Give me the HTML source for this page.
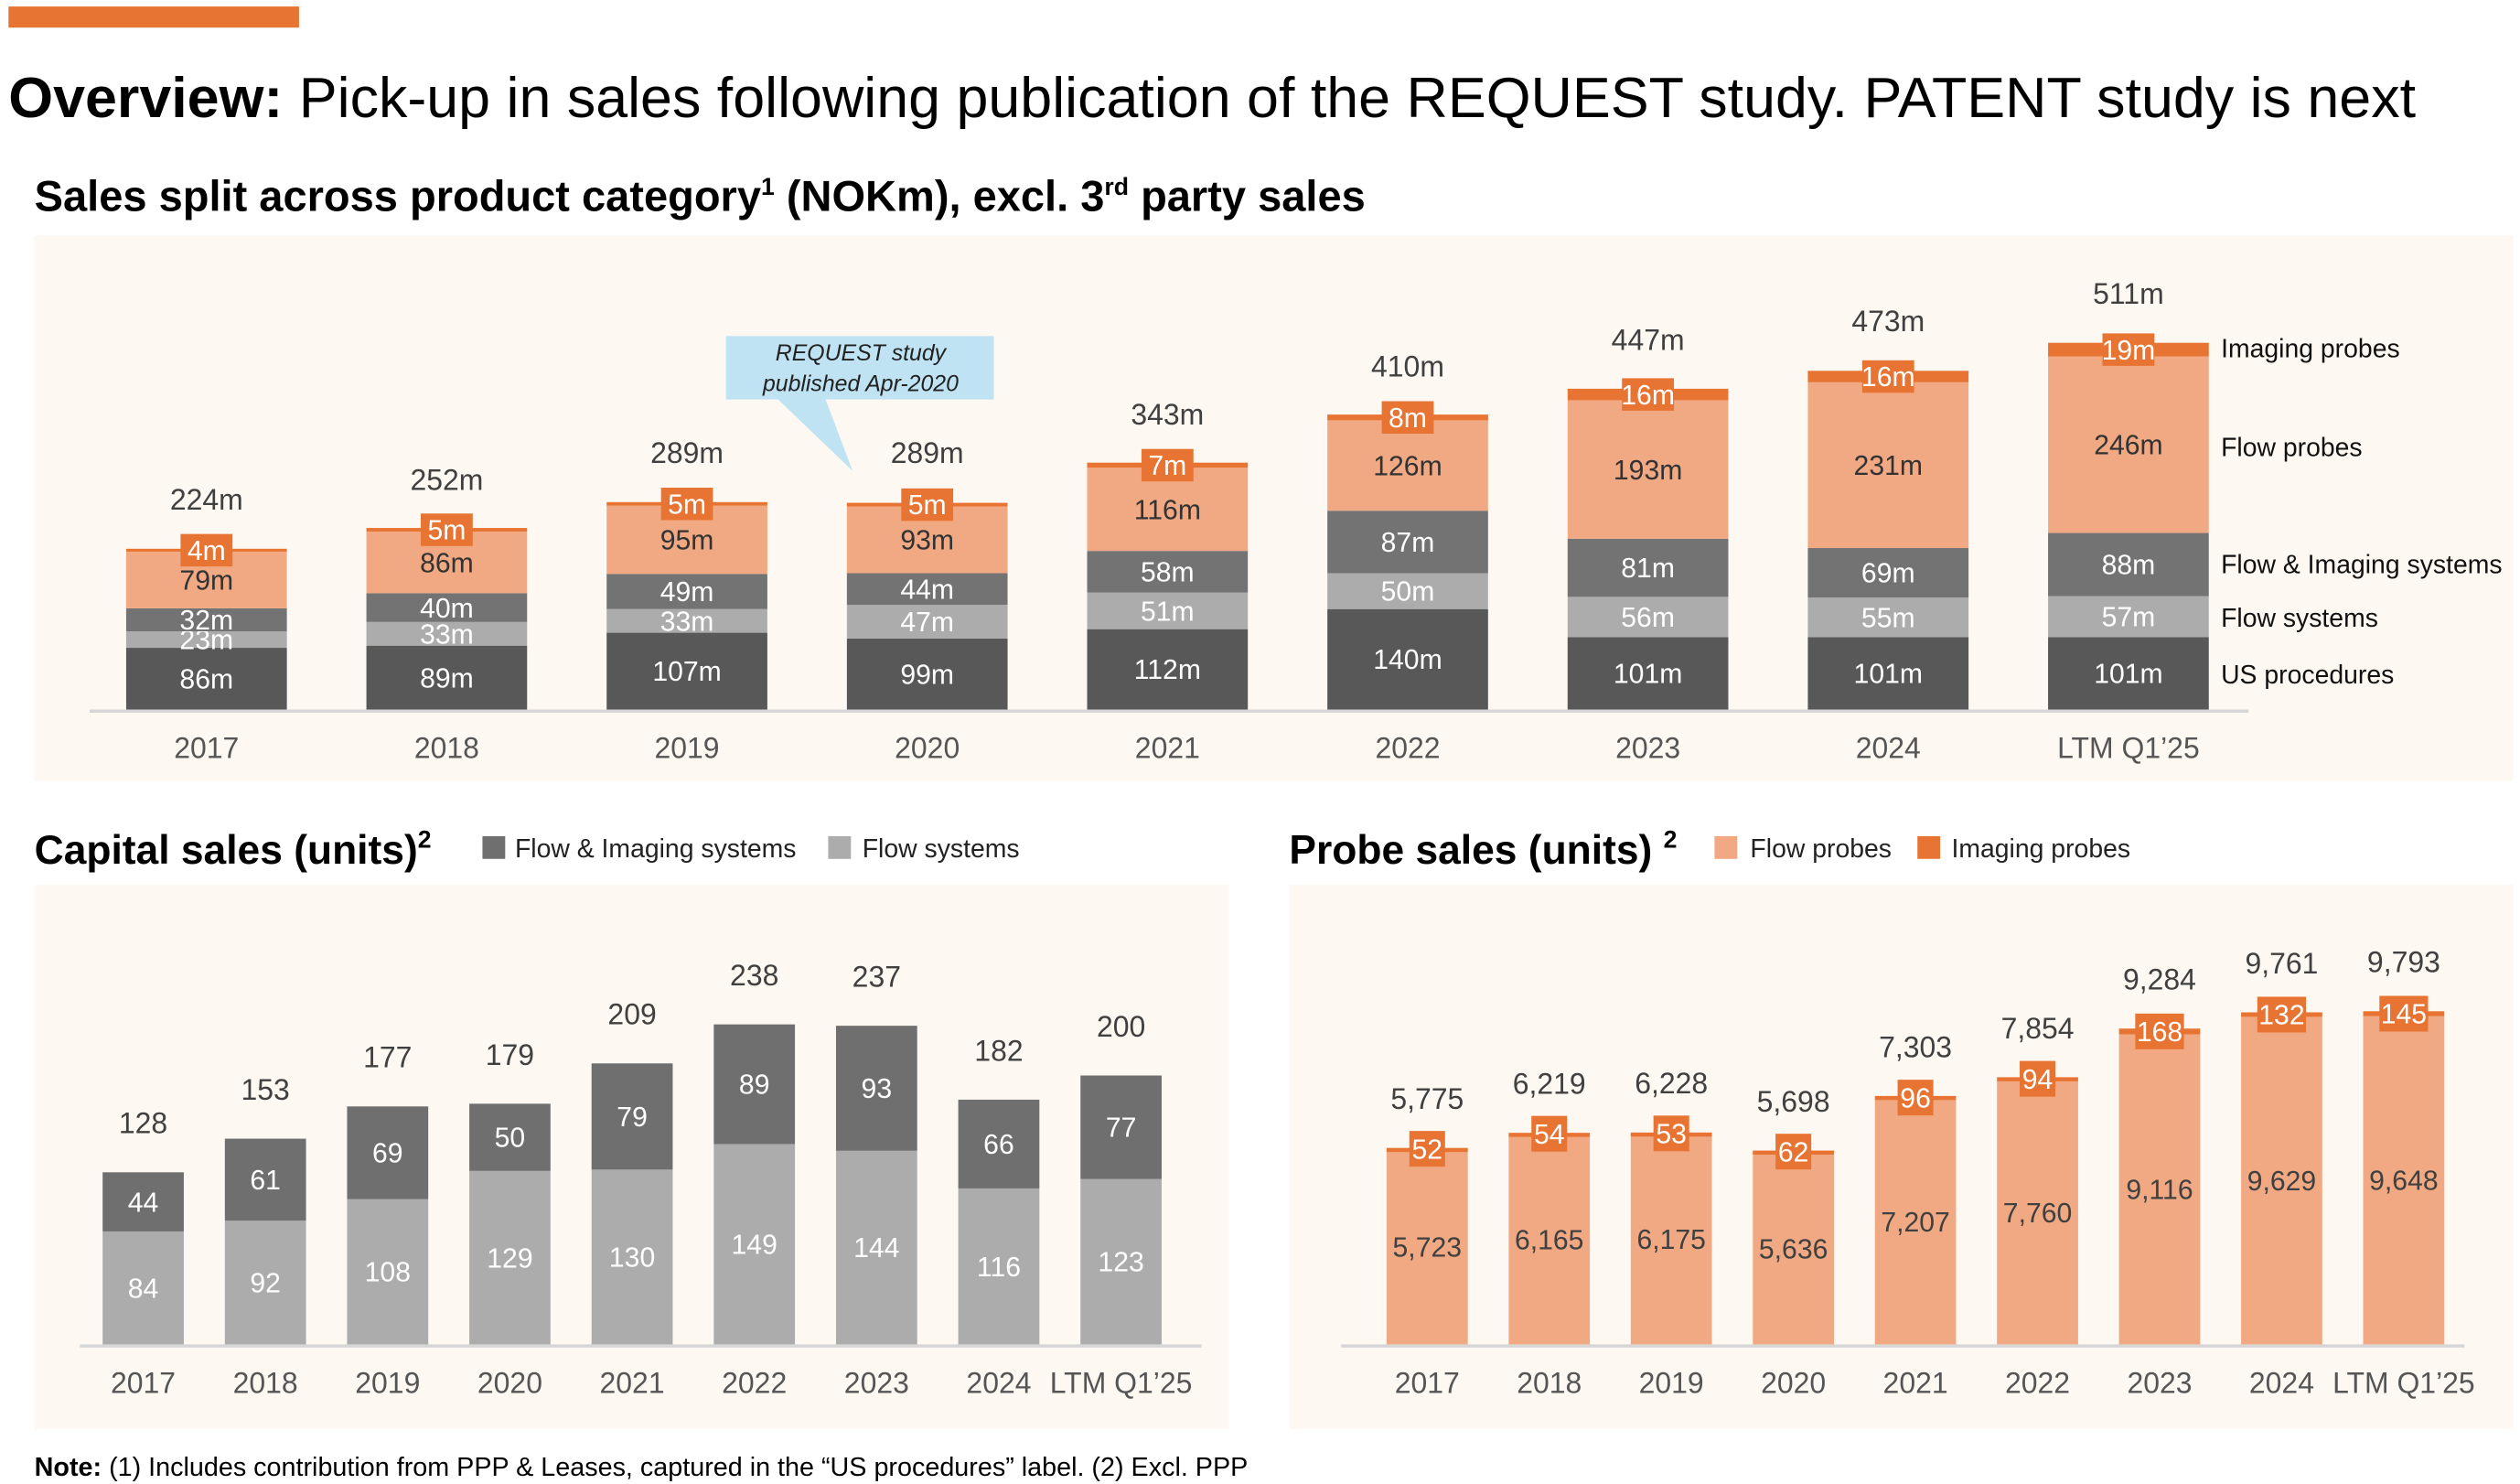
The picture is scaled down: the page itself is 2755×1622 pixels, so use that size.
<!DOCTYPE html>
<html><head><meta charset="utf-8">
<style>
html,body{margin:0;padding:0;background:#fff;}
svg{display:block;font-family:"Liberation Sans",sans-serif;}
</style></head>
<body>
<svg id="root" width="2755" height="1622" viewBox="0 0 1552 914" xmlns="http://www.w3.org/2000/svg">
  <rect x="5" y="4" width="179" height="13" fill="#e87433"/>
  <text x="5" y="72" font-size="35" fill="#000" textLength="1483" lengthAdjust="spacingAndGlyphs"><tspan font-weight="bold">Overview:</tspan> Pick-up in sales following publication of the REQUEST study. PATENT study is next</text>
  <text x="21" y="130" font-size="26.5" font-weight="bold" fill="#000">Sales split across product category<tspan font-size="15" dy="-10">1</tspan><tspan dy="10"> (NOKm), excl. 3</tspan><tspan font-size="15" dy="-10">rd</tspan><tspan dy="10"> party sales</tspan></text>
  <rect x="21" y="145" width="1527" height="336" fill="#fdf8f2"/>
  <g id="top"></g>
  <g>
    <polygon points="478,245 508,245 525,290" fill="#bfe3f3"/>
    <rect x="447" y="207" width="165" height="39" fill="#bfe3f3"/>
    <text x="530" y="222" font-size="14" font-style="italic" text-anchor="middle" fill="#222">REQUEST study</text>
    <text x="530" y="241" font-size="14" font-style="italic" text-anchor="middle" fill="#222">published Apr-2020</text>
  </g>

  <text x="21" y="532" font-size="25" font-weight="bold" fill="#000">Capital sales (units)<tspan font-size="15" dy="-10">2</tspan></text>
  <rect x="297" y="515" width="14" height="14" fill="#6f6f6f"/>
  <text x="317" y="528" font-size="16" fill="#222">Flow &amp; Imaging systems</text>
  <rect x="510" y="515" width="14" height="14" fill="#acacac"/>
  <text x="531" y="528" font-size="16" fill="#222">Flow systems</text>
  <rect x="21" y="545" width="736" height="335" fill="#fdf8f2"/>
  <g id="cap"></g>

  <text x="794" y="532" font-size="25" font-weight="bold" fill="#000">Probe sales (units) <tspan font-size="15" dy="-10">2</tspan></text>
  <rect x="1056" y="515" width="14" height="14" fill="#f0a983"/>
  <text x="1078" y="528" font-size="16" fill="#222">Flow probes</text>
  <rect x="1181" y="515" width="14" height="14" fill="#e87433"/>
  <text x="1202" y="528" font-size="16" fill="#222">Imaging probes</text>
  <rect x="794" y="545" width="754" height="335" fill="#fdf8f2"/>
  <g id="probe"></g>

  <text x="21" y="909" font-size="16.2" fill="#000"><tspan font-weight="bold">Note:</tspan> (1) Includes contribution from PPP &amp; Leases, captured in the “US procedures” label. (2) Excl. PPP</text>
</svg>
<script>
const years = ["2017","2018","2019","2020","2021","2022","2023","2024","LTM Q1’25"];
const usProc = [86,89,107,99,112,140,101,101,101];
const flowSys = [23,33,33,47,51,50,56,55,57];
const flowImgSys = [32,40,49,44,58,87,81,69,88];
const flowProbes = [79,86,95,93,116,126,193,231,246];
const imgProbes = [4,5,5,5,7,8,16,16,19];
const totals = [224,252,289,289,343,410,447,473,511];

const capYears = ["2017","2018","2019","2020","2021","2022","2023","2024","LTM Q1’25"];
const capFlowSys = [84,92,108,129,130,149,144,116,123];
const capFlowImg = [44,61,69,50,79,89,93,66,77];

const prbYears = ["2017","2018","2019","2020","2021","2022","2023","2024","LTM Q1’25"];
const prbFlow = [5723,6165,6175,5636,7207,7760,9116,9629,9648];
const prbImg = [52,54,53,62,96,94,168,132,145];

const NS = "http://www.w3.org/2000/svg";
function mk(parent, tag, attrs, txt){
  const e = document.createElementNS(NS, tag);
  for (const k in attrs) e.setAttribute(k, attrs[k]);
  if (txt !== undefined) e.textContent = txt;
  parent.appendChild(e);
  return e;
}
const C = {dark:"#585858", mid:"#737373", light:"#acacac", peach:"#f0a983", orange:"#e87433", text:"#404040"};

// ---------- top chart ----------
(function(){
  const g = document.getElementById("top");
  const base = 437, k = 0.442, bw = 99;
  const xc = i => 127 + i*148;
  const y = v => base - v*k;
  const ln = mk(g, "line", {x1:55, x2:1385, y1:base+1, y2:base+1, stroke:"#d6d6d6", "stroke-width":2});
  
  
  const series = [[usProc,C.dark,"#fff","us-procedures"],[flowSys,C.light,"#fff","flow-systems"],[flowImgSys,C.mid,"#fff","flow-imaging-systems"],[flowProbes,C.peach,"#333","flow-probes"],[imgProbes,C.orange,"#fff","imaging-probes"]];
  years.forEach((yr,i)=>{
    let cum = 0;
    series.forEach(([arr,col,tc,nm],si)=>{
      const v = arr[i];
      const r = mk(g,"rect",{x:xc(i)-bw/2, y:y(cum+v), width:bw, height:v*k, fill:col});
      
      
      if (si < 4){
        const t = mk(g,"text",{x:xc(i), y:y(cum+v/2)+6, "font-size":17, fill:tc, "text-anchor":"middle"}, v+"m");
        
        
      } else {
        const cy = y(cum+v/2);
        const b = mk(g,"rect",{x:xc(i)-16, y:cy-10, width:32, height:20, fill:C.orange});
        
        
        const t = mk(g,"text",{x:xc(i), y:cy+6, "font-size":17, fill:"#fff", "text-anchor":"middle"}, v+"m");
        
        
      }
      cum += v;
    });
    const tt = mk(g,"text",{x:xc(i), y:y(totals[i])-24, "font-size":18, fill:C.text, "text-anchor":"middle"}, totals[i]+"m");
    
    
    const xl = mk(g,"text",{x:xc(i), y:467, "font-size":18, fill:"#555", "text-anchor":"middle"}, yr);
    
    
  });
  const labs = [["Imaging probes",214],["Flow probes",275],["Flow & Imaging systems",347],["Flow systems",380],["US procedures",415]];
  labs.forEach(([s,yy])=>{
    const t = mk(g,"text",{x:1368, y:yy+6, "font-size":16, fill:"#111"}, s);
    
    
  });
})();

// ---------- capital chart ----------
(function(){
  const g = document.getElementById("cap");
  const base = 828, k = 0.828, bw = 50;
  const xc = i => 88 + i*75.3;
  const y = v => base - v*k;
  const ln = mk(g,"line",{x1:49, x2:740, y1:base+1, y2:base+1, stroke:"#d6d6d6", "stroke-width":2});
  
  
  capYears.forEach((yr,i)=>{
    const a = capFlowSys[i], b = capFlowImg[i];
    const r1 = mk(g,"rect",{x:xc(i)-bw/2, y:y(a), width:bw, height:a*k, fill:C.light});
    
    
    const r2 = mk(g,"rect",{x:xc(i)-bw/2, y:y(a+b), width:bw, height:b*k, fill:"#6f6f6f"});
    
    
    const t1 = mk(g,"text",{x:xc(i), y:y(a/2)+6, "font-size":17, fill:"#fff", "text-anchor":"middle"}, a);
    
    
    const t2 = mk(g,"text",{x:xc(i), y:y(a+b/2)+6, "font-size":17, fill:"#fff", "text-anchor":"middle"}, b);
    
    
    const tt = mk(g,"text",{x:xc(i), y:y(a+b)-24, "font-size":18, fill:C.text, "text-anchor":"middle"}, a+b);
    
    
    const xl = mk(g,"text",{x:xc(i), y:858, "font-size":18, fill:"#555", "text-anchor":"middle"}, yr);
    
    
  });
})();

// ---------- probe chart ----------
(function(){
  const g = document.getElementById("probe");
  const base = 828, k = 0.02095, bw = 50;
  const xc = i => 879 + i*75.2;
  const y = v => base - v*k;
  const fmt = v => v.toLocaleString("en-US");
  const ln = mk(g,"line",{x1:826, x2:1518, y1:base+1, y2:base+1, stroke:"#d6d6d6", "stroke-width":2});
  
  
  prbYears.forEach((yr,i)=>{
    const a = prbFlow[i], b = prbImg[i];
    const r1 = mk(g,"rect",{x:xc(i)-bw/2, y:y(a), width:bw, height:a*k, fill:C.peach});
    
    
    const r2 = mk(g,"rect",{x:xc(i)-bw/2, y:y(a+b), width:bw, height:Math.max(b*k,2.5), fill:C.orange});
    
    
    const cy = y(a+b/2);
    const bx = mk(g,"rect",{x:xc(i)-(String(b).length>2?15:11), y:cy-11, width:String(b).length>2?30:22, height:22, fill:C.orange});
    
    
    const t2 = mk(g,"text",{x:xc(i), y:cy+6, "font-size":17, fill:"#fff", "text-anchor":"middle"}, b);
    
    
    const t1 = mk(g,"text",{x:xc(i), y:y(a/2)+6, "font-size":17, fill:"#404040", "text-anchor":"middle"}, fmt(a));
    
    
    const tt = mk(g,"text",{x:xc(i), y:y(a+b)-24, "font-size":18, fill:C.text, "text-anchor":"middle"}, fmt(a+b));
    
    
    const xl = mk(g,"text",{x:xc(i), y:858, "font-size":18, fill:"#555", "text-anchor":"middle"}, yr);
    
    
  });
})();
</script>
</body></html>
